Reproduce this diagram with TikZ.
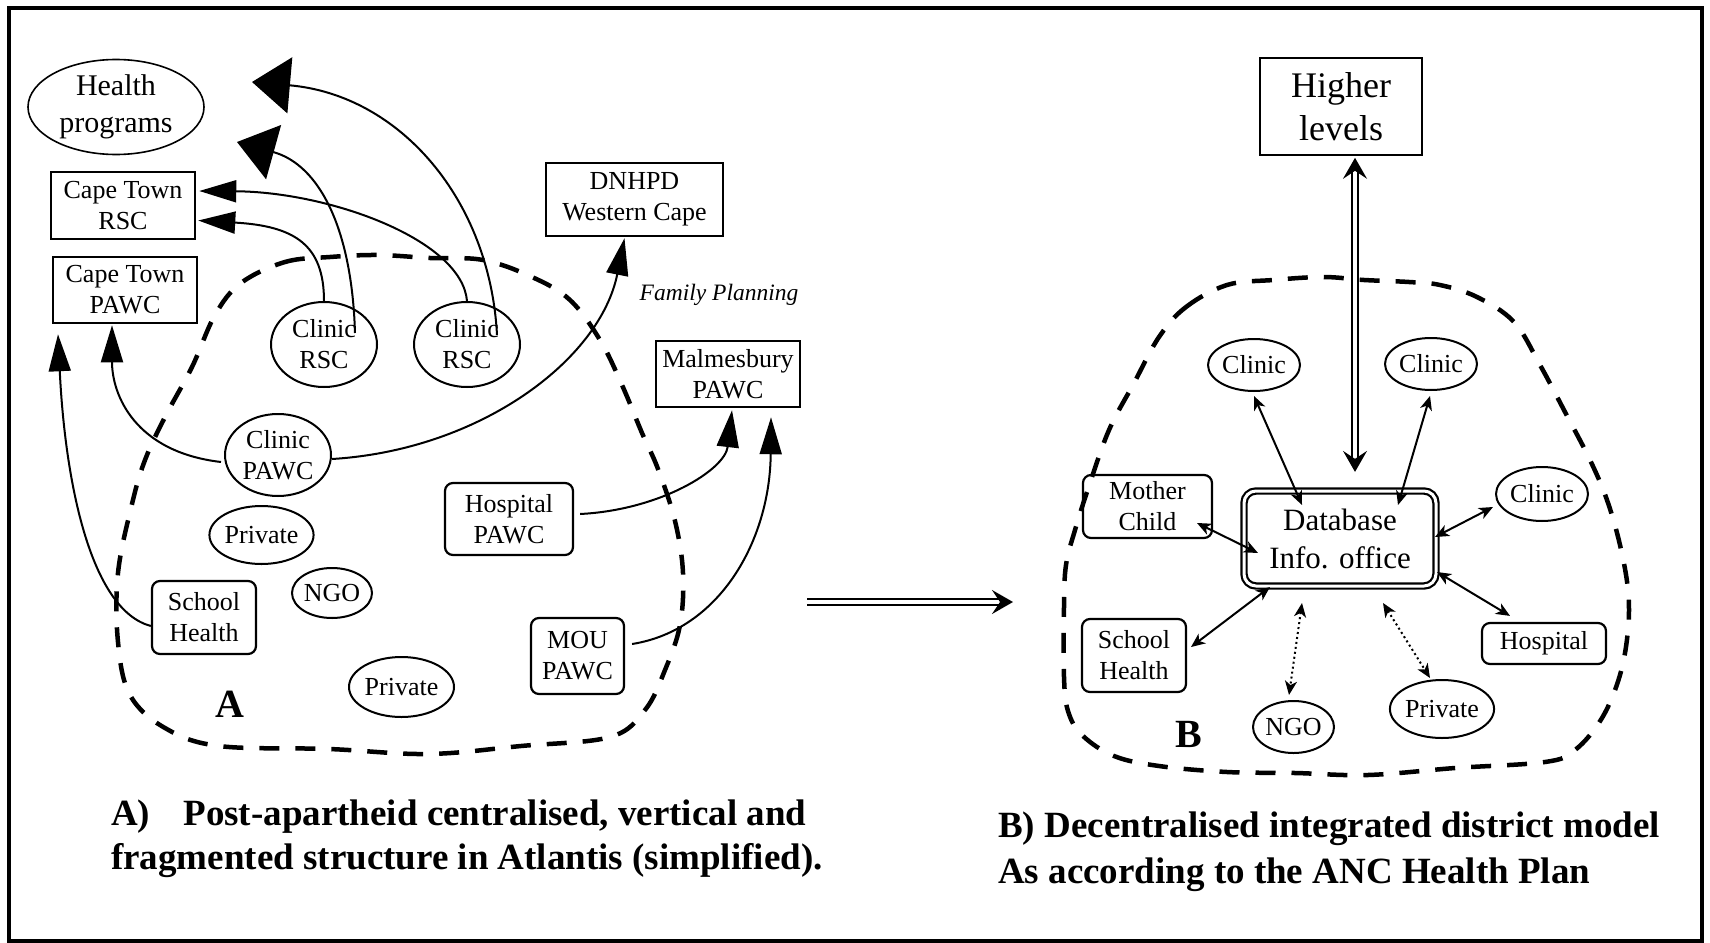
\documentclass[tikz,border=0pt]{standalone}
\usepackage{fontspec}
\setmainfont{Liberation Serif}
\usetikzlibrary{arrows.meta,shapes.geometric,calc}
\tikzset{bighead/.tip={Stealth[length=21pt,width=24pt,inset=8pt]}}
\begin{document}
\begin{tikzpicture}[x=1pt,y=-1pt,
  every node/.style={align=center, inner sep=0pt},
  fs/.style={font=\fontsize{26}{31}\selectfont},
  sqbox/.style={draw, line width=2.5pt, fs},
  rbox/.style={draw, line width=2.2pt, rounded corners=8pt, fs},
  ell/.style={draw, ellipse, line width=2pt, fs},
  conn/.style={line width=2pt},
  tri/.style={-{Triangle[length=37pt,width=22pt]}},
  bigtri/.style={-{Triangle[length=38pt,width=56pt]}},
  blob/.style={line width=4.5pt, dash pattern=on 20pt off 16pt},
  link/.style={line width=2pt, {Stealth[length=14pt,width=12pt,inset=4pt]}-{Stealth[length=14pt,width=12pt,inset=4pt]}},
  dlink/.style={link, dash pattern=on 2pt off 3pt},
  dbl/.style={double, double distance=4pt, line width=2pt},
]
\useasboundingbox (0,0) rectangle (1710,942);
\draw[line width=4pt] (9,8) rectangle (1702,941);

% ---------------- Panel A ----------------
\draw[blob] plot[smooth cycle, tension=0.6] coordinates {
 (241,283) (285,262) (330,257) (378,255) (430,258) (483,260) (532,277) (570,300)
 (600,340) (622,385) (642,433) (658,469) (675,521) (683,573) (680,625) (665,670)
 (645,710) (610,737) (521,746) (428,754) (329,749) (219,746) (165,728) (130,695)
 (118,642) (118,573) (132,504) (145,460) (165,417) (192,367) (215,315)};

\node[ell, line width=1.6pt, minimum width=176pt, minimum height=95pt, font=\fontsize{30}{37}\selectfont] (hp) at (116,107) {Health\\programs};
\node[sqbox, minimum width=144pt, minimum height=67pt] (ctrsc) at (123,205.5) {Cape Town\\RSC};
\node[sqbox, minimum width=144pt, minimum height=66pt] (ctpawc) at (125,290) {Cape Town\\PAWC};
\node[sqbox, minimum width=177pt, minimum height=73pt] (dnhpd) at (634.5,199.5) {DNHPD\\Western Cape};
\node[ell, minimum width=106pt, minimum height=85pt] (rsc1) at (324,344.5) {Clinic\\RSC};
\node[ell, minimum width=106pt, minimum height=85pt] (rsc2) at (467,344.5) {Clinic\\RSC};
\node[font=\fontsize{23.5}{28}\selectfont\itshape] (fp) at (719,295) {Family Planning};
\node[sqbox, minimum width=144pt, minimum height=66pt] (malm) at (728,374) {Malmesbury\\PAWC};
\node[ell, minimum width=106pt, minimum height=82pt] (cpawc) at (278,455) {Clinic\\PAWC};
\node[rbox, minimum width=128pt, minimum height=72pt] (hosp) at (509,519) {Hospital\\PAWC};
\node[ell, minimum width=97pt, minimum height=58pt] (priv1) at (261.5,535) {Private};
\node[ell, minimum width=80pt, minimum height=50pt] (ngo1) at (332,593) {NGO};
\node[rbox, minimum width=104pt, minimum height=73pt] (sch1) at (204,617.5) {School\\Health};
\node[rbox, minimum width=93pt, minimum height=76pt] (mou) at (577.5,656) {MOU\\PAWC};
\node[ell, minimum width=105pt, minimum height=60pt] (priv2) at (401.5,687) {Private};
\node[font=\fontsize{40}{40}\selectfont\bfseries] (la) at (230,704) {A};

\coordinate (t1) at (237,142);
\coordinate (t2) at (252,82);

\draw[conn,tri] (rsc1.north) .. controls (324,245) and (295,226) .. ([xshift=2pt,yshift=-15pt]ctrsc.east);
\draw[conn,bigtri] ([xshift=31pt,yshift=11.5pt]rsc1.center) .. controls (352,230) and (320,165) .. (t1);
\draw[conn,tri] (rsc2.north) .. controls (462,240) and (330,192) .. ([xshift=3pt,yshift=14.5pt]ctrsc.east);
\draw[conn,bigtri] ([xshift=30pt,yshift=9.5pt]rsc2.center) .. controls (490,200) and (400,95) .. (t2);
\draw[conn,tri] ([xshift=-3pt,yshift=-7pt]cpawc.west) .. controls (135,452) and (112,395) .. ([xshift=-13pt,yshift=-1pt]ctpawc.south);
\draw[conn,tri] ([yshift=-4pt]cpawc.east) .. controls (480,450) and (600,360) .. ([xshift=-10pt,yshift=-1pt]dnhpd.south);
\draw[conn,tri] ([yshift=-8.5pt]sch1.west) .. controls (90,610) and (65,480) .. ([xshift=-67pt,yshift=-10pt]ctpawc.south);
\draw[conn,tri] ([xshift=6pt,yshift=5pt]hosp.east) .. controls (660,510) and (725,470) .. ([xshift=4pt,yshift=-2pt]malm.south);
\draw[conn,tri] ([xshift=7pt,yshift=12pt]mou.east) .. controls (720,630) and (770,540) .. ([xshift=43pt,yshift=-9pt]malm.south);

\node[anchor=west, align=left, font=\fontsize{37}{44}\selectfont\bfseries] (capA) at (111,839)
 {A)\hspace{0.9em}Post-apartheid centralised, vertical and\\fragmented structure in Atlantis (simplified).};

% ---------------- middle arrow ----------------
\coordinate (ma) at (807,602);
\coordinate (mb) at (1013,602);
\draw[dbl,-bighead] (ma) -- (mb);

% ---------------- Panel B ----------------
\draw[blob] plot[smooth cycle, tension=0.6] coordinates {
 (1159,337) (1186,307) (1227,285) (1273,280) (1323,277) (1364,280) (1409,282) (1440,285)
 (1477,297) (1514,322) (1540,365) (1565,412) (1590,460) (1607,500) (1620,545) (1628,590)
 (1628,630) (1620,675) (1602,718) (1575,750) (1545,762) (1455,768) (1368,775) (1295,773)
 (1227,772) (1159,766) (1114,756) (1082,735) (1068,711) (1064,677) (1064,607) (1066,565)
 (1075,530) (1089,486) (1109,430) (1134,383)};

\node[draw, line width=1.6pt, minimum width=162pt, minimum height=97pt, font=\fontsize{36}{43}\selectfont] (hl) at (1341,106.5) {Higher\\levels};
\node[draw, double, double distance=3pt, line width=2.2pt, rounded corners=12pt, minimum width=192pt, minimum height=95pt, font=\fontsize{31}{38}\selectfont] (db) at (1340,538.5) {Database\\Info. office};
\node[ell, minimum width=92pt, minimum height=52pt] (c1) at (1254,365) {Clinic};
\node[ell, minimum width=92pt, minimum height=52pt] (c2) at (1431,364) {Clinic};
\node[ell, minimum width=92pt, minimum height=54pt] (c3) at (1542,494) {Clinic};
\node[rbox, minimum width=129pt, minimum height=63pt] (mc) at (1147.5,506.5) {Mother\\Child};
\node[rbox, minimum width=104pt, minimum height=73pt] (sch2) at (1134,655.5) {School\\Health};
\node[rbox, minimum width=124pt, minimum height=41pt] (hosp2) at (1544,643.5) {Hospital};
\node[ell, minimum width=81pt, minimum height=52pt] (ngo2) at (1293.5,727) {NGO};
\node[ell, minimum width=104pt, minimum height=58pt] (priv3) at (1442,709) {Private};
\node[font=\fontsize{40}{40}\selectfont\bfseries] (lb) at (1189,734) {B};

\draw[dbl,bighead-bighead] ([xshift=14pt,yshift=-2pt]hl.south) -- ([xshift=15pt,yshift=18pt]db.north);
\draw[link] ([yshift=-4pt]c1.south) -- ([xshift=-38pt,yshift=33.5pt]db.center);
\draw[link] ([xshift=-1pt,yshift=-5pt]c2.south) -- ([xshift=58pt,yshift=33.5pt]db.center);
\draw[link] ([xshift=-49pt,yshift=-13pt]c3.center) -- ([xshift=95pt,yshift=1.5pt]db.center);
\draw[link] ([xshift=49.5pt,yshift=-16.5pt]mc.center) -- ([xshift=-82pt,yshift=-14.5pt]db.center);
\draw[link] ([xshift=57pt,yshift=8.5pt]sch2.center) -- ([xshift=-70pt,yshift=-48.5pt]db.center);
\draw[link] ([xshift=97pt,yshift=-33.5pt]db.center) -- ([xshift=-34pt,yshift=6pt]hosp2.north);
\draw[dlink] ([xshift=-38pt,yshift=-64.5pt]db.center) -- ([xshift=-4.5pt,yshift=5pt]ngo2.north);
\draw[dlink] ([xshift=43pt,yshift=-64.5pt]db.center) -- ([xshift=-12pt,yshift=1pt]priv3.north);

\node[anchor=west, align=left, font=\fontsize{37}{46}\selectfont\bfseries] (capB) at (998,852)
 {B) Decentralised integrated district model\\As according to the ANC Health Plan};
\end{tikzpicture}
\end{document}
